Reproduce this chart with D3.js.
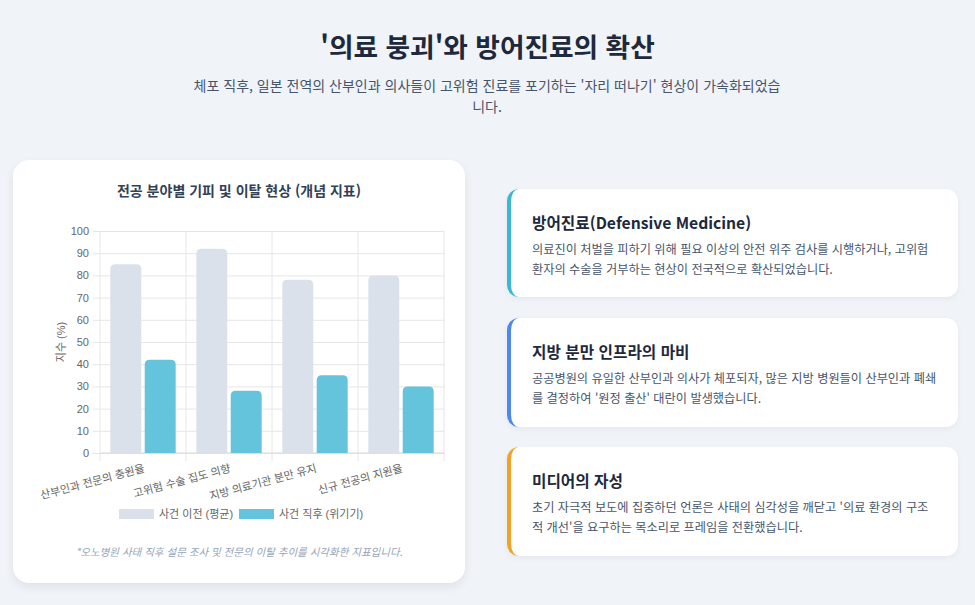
<!DOCTYPE html>
<html lang="ko">
<head>
<meta charset="utf-8">
<script src="https://cdn.jsdelivr.net/npm/d3@7"></script>
<style>
  html, body { margin:0; padding:0; }
  body { width:975px; height:605px; background:#f0f4f9; position:relative; overflow:hidden;
         font-family:"Noto Sans CJK KR","Noto Sans",sans-serif; }
  .title { position:absolute; left:0; width:975px; top:26px; text-align:center; font-size:26.7px;
           font-weight:700; color:#1e293b; line-height:40px; margin:0; }
  .subtitle { position:absolute; left:190px; width:594px; top:75px; text-align:center; font-size:14px;
              color:#475569; line-height:21px; margin:0; }
  .chartcard { position:absolute; left:13px; top:160px; width:452px; height:423px; background:#fff;
               border-radius:16px; box-shadow:0 4px 10px rgba(15,23,42,0.08); }
  .card { position:absolute; left:507px; width:451px; background:#fff; border-radius:12px;
          box-sizing:border-box; box-shadow:0 2px 6px rgba(15,23,42,0.05); }
  .card h3 { margin:0; position:absolute; left:21px; top:23px; font-size:15.7px; font-weight:700; color:#1e293b; line-height:22px; }
  .card p { margin:0; position:absolute; left:21px; top:51px; font-size:12.2px; color:#475569; line-height:19.5px; }
  svg text { font-family:"Liberation Sans","Noto Sans CJK KR",sans-serif; }
</style>
</head>
<body>
<h1 class="title">'의료 붕괴'와 방어진료의 확산</h1>
<p class="subtitle">체포 직후, 일본 전역의 산부인과 의사들이 고위험 진료를 포기하는 '자리 떠나기' 현상이 가속화되었습니다.</p>
<div class="chartcard"><svg id="chart" width="452" height="423"></svg></div>
<div id="cards"></div>
<script>
const categories = ["산부인과 전문의 충원율", "고위험 수술 집도 의향", "지방 의료기관 분만 유지", "신규 전공의 지원율"];
const beforeValues = [85, 92, 78, 80];
const afterValues = [42, 28, 35, 30];
const seriesNames = ["사건 이전 (평균)", "사건 직후 (위기기)"];
const seriesColors = ["#dbe1ea", "#64c4dc"];
const yTicks = [0, 10, 20, 30, 40, 50, 60, 70, 80, 90, 100];
const chartTitle = "전공 분야별 기피 및 이탈 현상 (개념 지표)";
const yAxisTitle = "지수 (%)";
const footnote = "*오노병원 사태 직후 설문 조사 및 전문의 이탈 추이를 시각화한 지표입니다.";

const cardTitles = ["방어진료(Defensive Medicine)", "지방 분만 인프라의 마비", "미디어의 자성"];
const cardTexts = [
  "의료진이 처벌을 피하기 위해 필요 이상의 안전 위주 검사를 시행하거나, 고위험 환자의 수술을 거부하는 현상이 전국적으로 확산되었습니다.",
  "공공병원의 유일한 산부인과 의사가 체포되자, 많은 지방 병원들이 산부인과 폐쇄를 결정하여 '원정 출산' 대란이 발생했습니다.",
  "초기 자극적 보도에 집중하던 언론은 사태의 심각성을 깨닫고 '의료 환경의 구조적 개선'을 요구하는 목소리로 프레임을 전환했습니다."
];
const cardColors = ["#3bb6d3", "#4f86f0", "#f2a324"];

// side cards
const cardTops = [189, 318, 447];
const cardHeights = [108, 109, 109];
const textWidths = [404, 415, 404];
const cardsSel = d3.select("#cards").selectAll("div.card").data(cardTitles).join("div")
  .attr("class", "card")
  .style("top", (d, i) => cardTops[i] + "px")
  .style("height", (d, i) => cardHeights[i] + "px")
  .style("border-left", (d, i) => "4px solid " + cardColors[i]);
cardsSel.append("h3").text(d => d);
cardsSel.append("p").style("width", (d, i) => textWidths[i] + "px").text((d, i) => cardTexts[i]);

// chart
const svg = d3.select("#chart");
const plot = { left: 87, right: 431, top: 71, bottom: 293 };
const textColor = "#666";
const gridColor = "#e6e6e6";

svg.append("text").attr("x", 226).attr("y", 36).attr("text-anchor", "middle")
  .attr("font-size", 14).attr("font-weight", 700).attr("fill", "#334155")
  .style("font-family", "'Noto Sans CJK KR',sans-serif").text(chartTitle);

const x0 = d3.scaleBand().domain(categories).range([plot.left, plot.right]).paddingInner(0).paddingOuter(0);
const x1 = d3.scaleBand().domain(d3.range(seriesNames.length))
  .range([x0.bandwidth() * 0.1, x0.bandwidth() * 0.9]).paddingInner(0.1).paddingOuter(0.05);
const y = d3.scaleLinear().domain([0, 100]).range([plot.bottom, plot.top]);

// horizontal grid + y axis
const yAxis = d3.axisLeft(y).tickValues(yTicks).tickSize(plot.right - plot.left + 7).tickPadding(4);
const yg = svg.append("g").attr("transform", `translate(${plot.right},0)`).call(yAxis);
yg.select(".domain").remove();
yg.selectAll(".tick line").attr("stroke", gridColor);
yg.selectAll(".tick text").attr("fill", textColor).attr("font-size", 11)
  .style("font-family", "'Liberation Sans',Arial,sans-serif");

// vertical grid lines at category boundaries
const bounds = categories.map(c => x0(c)).concat([plot.right]);
svg.append("g").selectAll("line").data(bounds).join("line")
  .attr("x1", d => d).attr("x2", d => d).attr("y1", plot.top).attr("y2", plot.bottom + 8)
  .attr("stroke", gridColor);
svg.append("line").attr("x1", plot.left).attr("x2", plot.right).attr("y1", plot.bottom).attr("y2", plot.bottom)
  .attr("stroke", "#d9d9d9");

// bars
function topRounded(x, yTop, w, h, r) {
  r = Math.min(r, w / 2, h);
  return `M${x},${yTop + h}V${yTop + r}Q${x},${yTop} ${x + r},${yTop}H${x + w - r}Q${x + w},${yTop} ${x + w},${yTop + r}V${yTop + h}Z`;
}
const series = [beforeValues, afterValues];
const groups = svg.append("g").selectAll("g").data(categories).join("g")
  .attr("transform", d => `translate(${x0(d)},0)`);
groups.selectAll("path").data((c, ci) => series.map((s, si) => ({ si, v: s[ci] }))).join("path")
  .attr("d", d => topRounded(x1(d.si), y(d.v), x1.bandwidth(), y(0) - y(d.v), 5))
  .attr("fill", d => seriesColors[d.si]);

// x labels
const xAxis = d3.axisBottom(x0).tickSize(0).tickFormat(d => d);
const xg = svg.append("g").attr("transform", `translate(0,${plot.bottom})`).call(xAxis);
xg.select(".domain").remove();
xg.selectAll(".tick text")
  .attr("fill", textColor).attr("font-size", 11)
  .attr("text-anchor", "end")
  .attr("transform", "translate(0,10) rotate(-15)")
  .attr("y", 0).attr("dy", "0.8em");

// y axis title
svg.append("text").attr("transform", `translate(52,${(plot.top + plot.bottom) / 2}) rotate(-90)`)
  .attr("text-anchor", "middle").attr("font-size", 11).attr("fill", textColor).text(yAxisTitle);

// legend
const legendX = [106, 226];
const lg = svg.append("g").selectAll("g").data(seriesNames).join("g")
  .attr("transform", (d, i) => `translate(${legendX[i]},349)`);
lg.append("rect").attr("width", 35).attr("height", 10).attr("fill", (d, i) => seriesColors[i]);
lg.append("text").attr("x", 40).attr("y", 5).attr("dy", "0.35em").attr("font-size", 11)
  .attr("fill", textColor).text(d => d);

// footnote
svg.append("text").attr("x", 226).attr("y", 396).attr("text-anchor", "middle")
  .attr("font-size", 10.5).attr("font-style", "italic").attr("fill", "#94a3b8")
  .style("font-family", "'Noto Sans CJK KR',sans-serif").text(footnote);
</script>
</body>
</html>
